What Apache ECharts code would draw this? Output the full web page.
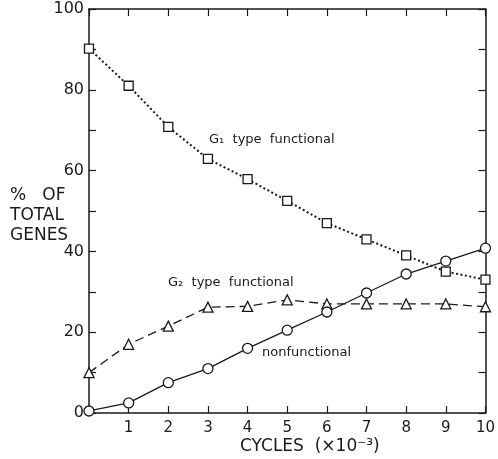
<!DOCTYPE html>
<html><head><meta charset="utf-8">
<script src="https://cdn.jsdelivr.net/npm/echarts@6/dist/echarts.min.js"></script>
<style>html,body{margin:0;padding:0;background:#fff}#c{width:498px;height:459px}</style>
</head><body><div id="c"></div>
<script>
var cycles = [0,1,2,3,4,5,6,7,8,9,10];
var g1Functional = [90.2,81,70.8,62.9,57.9,52.5,47,43,39,35,33];
var g2Functional = [10,17,21.5,26.2,26.4,28,27,27,27,27,26.3];
var nonFunctional = [0.5,2.5,7.5,11,16,20.5,25,29.7,34.4,37.6,40.8];
var yTickLabels = ['0','20','40','60','80','100'];

function pairs(ys){ return cycles.map(function(x,i){return [x, ys[i]];}); }
var ink = '#1a1a1a';
var font = 'DejaVu Sans';
var chart = echarts.init(document.getElementById('c'));
var axisCommon = {
  min:0, axisLine:{show:true,onZero:false,lineStyle:{color:ink,width:1.5}},
  splitLine:{show:false}
};
chart.setOption({
  animation:false,
  backgroundColor:'#fff',
  grid:{left:89,right:10,top:9,bottom:46},
  xAxis:[
    Object.assign({}, axisCommon, {type:'value',position:'bottom',max:10,interval:1,
      axisTick:{inside:true,length:7,lineStyle:{color:ink,width:1.2}},
      axisLabel:{color:ink,fontFamily:font,fontSize:15,margin:8,
        formatter:function(v){return v===0?'':String(v);}}}),
    Object.assign({}, axisCommon, {type:'value',position:'top',max:10,interval:1,
      axisTick:{inside:true,length:7,lineStyle:{color:ink,width:1.2}},
      axisLabel:{show:false}})
  ],
  yAxis:[
    Object.assign({}, axisCommon, {type:'value',position:'left',max:100,interval:10,
      axisTick:{inside:true,length:7,lineStyle:{color:ink,width:1.2}},
      axisLabel:{color:ink,fontFamily:font,fontSize:16,margin:5,
        formatter:function(v){var s=String(v);return yTickLabels.indexOf(s)>=0?s:'';}}}),
    Object.assign({}, axisCommon, {type:'value',position:'right',max:100,interval:10,
      axisTick:{inside:true,length:7,lineStyle:{color:ink,width:1.2}},
      axisLabel:{show:false}})
  ],
  series:[
    {name:'G1 type functional',type:'line',data:pairs(g1Functional),
      symbol:'rect',symbolSize:9,itemStyle:{color:'#fff',borderColor:ink,borderWidth:1.3},
      lineStyle:{color:ink,width:2,type:[2,2.5]},z:3},
    {name:'G2 type functional',type:'line',data:pairs(g2Functional),
      symbol:'triangle',symbolSize:10,itemStyle:{color:'#fff',borderColor:ink,borderWidth:1.3},
      lineStyle:{color:ink,width:1.3,type:[9,5]},z:3},
    {name:'nonfunctional',type:'line',data:pairs(nonFunctional),
      symbol:'circle',symbolSize:10,itemStyle:{color:'#fff',borderColor:ink,borderWidth:1.3},
      lineStyle:{color:ink,width:1.3,type:'solid'},z:3}
  ],
  graphic:[
    {type:'text',left:10,top:186,style:{text:'%   OF\nTOTAL\nGENES',fill:ink,font:'17px DejaVu Sans',lineHeight:20}},
    {type:'text',left:209,top:133,style:{text:'G\u2081  type  functional',fill:ink,font:'13px DejaVu Sans'}},
    {type:'text',left:168,top:276,style:{text:'G\u2082  type  functional',fill:ink,font:'13px DejaVu Sans'}},
    {type:'text',left:262,top:346,style:{text:'nonfunctional',fill:ink,font:'13px DejaVu Sans'}},
    {type:'text',left:240,top:438,style:{text:'CYCLES  (\u00d710\u207b\u00b3)',fill:ink,font:'17px DejaVu Sans'}}
  ]
});
</script></body></html>
